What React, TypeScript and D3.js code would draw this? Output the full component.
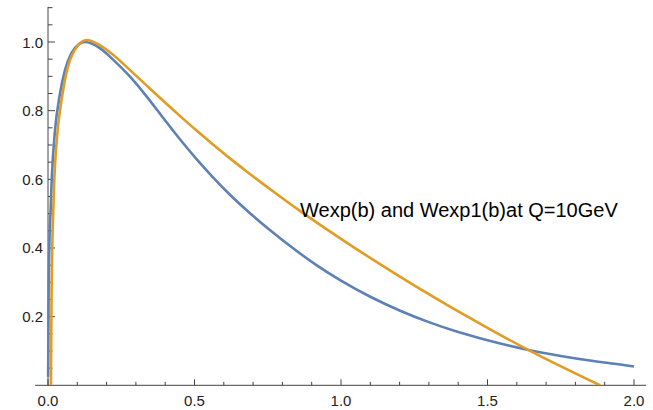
import React from "react";
import * as d3 from "d3";

const W = 653;
const H = 410;

// Wexp(b) — blue
const blueB = [0.0005, 0.002, 0.005, 0.009, 0.0126, 0.024, 0.039, 0.058, 0.08, 0.105, 0.127, 0.177, 0.223, 0.28, 0.337, 0.394, 0.451, 0.507, 0.564, 0.621, 0.678, 0.752, 0.849, 0.92, 1.0, 1.1, 1.2, 1.3, 1.4, 1.5, 1.639, 1.75, 1.85, 2.0];
const blueW = [0.025, 0.25, 0.42, 0.511, 0.597, 0.743, 0.84, 0.918, 0.968, 0.993, 1.0, 0.982, 0.948, 0.899, 0.841, 0.778, 0.716, 0.659, 0.605, 0.555, 0.51, 0.456, 0.391, 0.348, 0.305, 0.258, 0.218, 0.184, 0.155, 0.131, 0.103, 0.0855, 0.072, 0.055];

// Wexp1(b) — orange
const orangeB = [0.01, 0.012, 0.015, 0.018, 0.0215, 0.033, 0.048, 0.065, 0.09, 0.132, 0.177, 0.223, 0.28, 0.337, 0.394, 0.451, 0.507, 0.564, 0.621, 0.678, 0.735, 0.792, 0.86, 1.031, 1.258, 1.509, 1.639, 1.884];
const orangeW = [0.0, 0.25, 0.42, 0.511, 0.597, 0.743, 0.84, 0.918, 0.975, 1.006, 0.991, 0.962, 0.918, 0.873, 0.828, 0.784, 0.742, 0.701, 0.661, 0.623, 0.586, 0.55, 0.508, 0.409, 0.287, 0.163, 0.103, 0.0];

const xMajor = [0, 0.5, 1.0, 1.5, 2.0];
const xMajorLabels = ["0.0", "0.5", "1.0", "1.5", "2.0"];
const yMajor = [0.2, 0.4, 0.6, 0.8, 1.0];
const yMajorLabels = ["0.2", "0.4", "0.6", "0.8", "1.0"];

const label = "Wexp(b) and Wexp1(b)at Q=10GeV";

export default function App() {
  const x = d3.scaleLinear().domain([0, 2]).range([48, 634]);
  const y = d3.scaleLinear().domain([0, 1]).range([385.3, 42]);

  const line = d3
    .line<[number, number]>()
    .x((d) => x(d[0]))
    .y((d) => y(d[1]))
    .curve(d3.curveMonotoneX);

  const blue = line(blueB.map((b, i) => [b, blueW[i]] as [number, number])) || "";
  const orange = line(orangeB.map((b, i) => [b, orangeW[i]] as [number, number])) || "";

  const xMinor = d3.range(0, 2.0001, 0.1).map((v) => +v.toFixed(2)).filter((v) => !xMajor.some((m) => Math.abs(m - v) < 1e-6));
  const yMinor = d3.range(0.05, 1.1001, 0.05).map((v) => +v.toFixed(2)).filter((v) => !yMajor.some((m) => Math.abs(m - v) < 1e-6));

  const axisColor = "#444";
  const font = "'Liberation Sans', Arial, sans-serif";

  return (
    <svg width={W} height={H} style={{ position: "absolute", left: 0, top: 0, background: "#fff" }} fontFamily={font}>
      <defs>
        <clipPath id="plotClip">
          <rect x={0} y={0} width={W} height={y(0)} />
        </clipPath>
      </defs>
      {/* axes */}
      <line x1={x(-0.044)} x2={x(2.041)} y1={y(0)} y2={y(0)} stroke={axisColor} strokeWidth={1} />
      <line x1={x(0)} x2={x(0)} y1={y(0)} y2={y(1.102)} stroke={axisColor} strokeWidth={1} />
      {/* x ticks */}
      {xMajor.map((v, i) => (
        <g key={"xm" + i}>
          <line x1={x(v)} x2={x(v)} y1={y(0)} y2={y(0) - 6} stroke={axisColor} strokeWidth={1} />
          <text x={x(v)} y={406} textAnchor="middle" fontSize={15} fill="#222">
            {xMajorLabels[i]}
          </text>
        </g>
      ))}
      {xMinor.map((v, i) => (
        <line key={"xn" + i} x1={x(v)} x2={x(v)} y1={y(0)} y2={y(0) - 3.5} stroke={axisColor} strokeWidth={1} />
      ))}
      {/* y ticks */}
      {yMajor.map((v, i) => (
        <g key={"ym" + i}>
          <line x1={x(0)} x2={x(0) + 7} y1={y(v)} y2={y(v)} stroke={axisColor} strokeWidth={1} />
          <text x={43} y={y(v)} textAnchor="end" dominantBaseline="central" fontSize={15} fill="#222">
            {yMajorLabels[i]}
          </text>
        </g>
      ))}
      {yMinor.map((v, i) => (
        <line key={"yn" + i} x1={x(0)} x2={x(0) + 4.5} y1={y(v)} y2={y(v)} stroke={axisColor} strokeWidth={1} />
      ))}
      {/* curves */}
      <g clipPath="url(#plotClip)">
        <path d={blue} fill="none" stroke="#5E81B5" strokeWidth={2.6} strokeLinejoin="round" />
        <path d={orange} fill="none" stroke="#E19C24" strokeWidth={2.6} strokeLinejoin="round" />
      </g>
      <text x={300} y={217} fontSize={20} fill="#000">
        {label}
      </text>
    </svg>
  );
}
